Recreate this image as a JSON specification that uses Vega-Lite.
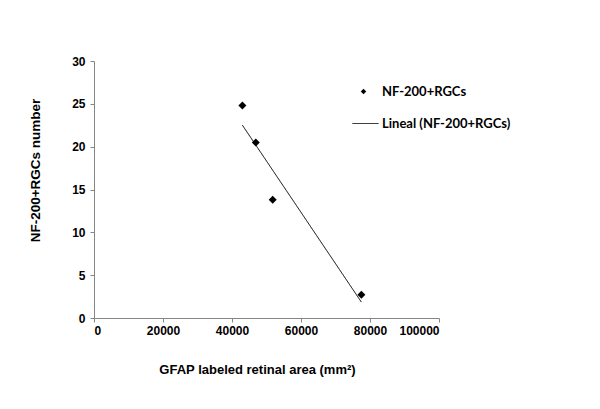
{
  "$schema": "https://vega.github.io/schema/vega-lite/v6.json",
  "autosize": "none",
  "width": 345,
  "height": 257,
  "padding": {"left": 94, "top": 61, "right": 161, "bottom": 91},
  "background": "white",
  "config": {
    "view": {"stroke": null},
    "axis": {
      "grid": false,
      "domainColor": "#868686",
      "tickColor": "#868686",
      "tickSize": 4,
      "labelFont": "Liberation Sans",
      "labelFontWeight": "bold",
      "labelFontSize": 12,
      "labelColor": "black",
      "titleFont": "Liberation Sans",
      "titleFontWeight": "bold",
      "titleColor": "black"
    },
    "legend": {"padding": 0, "labelFont": "Lato", "labelFontWeight": "bold", "labelFontSize": 13, "labelColor": "black"}
  },
  "data": {
    "values": [
      {"area": 43000, "count": 24.8},
      {"area": 46900, "count": 20.5},
      {"area": 51800, "count": 13.8},
      {"area": 77500, "count": 2.7}
    ]
  },
  "layer": [
    {
      "mark": {"type": "point", "shape": "diamond", "filled": true, "color": "black", "size": 64, "opacity": 1},
      "encoding": {
        "x": {
          "field": "area", "type": "quantitative",
          "scale": {"domain": [0, 100000], "nice": false},
          "axis": {"values": [0, 20000, 40000, 60000, 80000, 100000], "format": "d", "labelPadding": 3,
            "title": "GFAP labeled retinal area (mm²)", "titleFontSize": 13, "titleX": 163, "titleY": 51, "titleBaseline": "middle"}
        },
        "y": {
          "field": "count", "type": "quantitative",
          "scale": {"domain": [0, 30], "nice": false},
          "axis": {"values": [0, 5, 10, 15, 20, 25, 30], "labelPadding": 5,
            "title": "NF-200+RGCs number", "titleFontSize": 13.5, "titleX": -59, "titleY": 109, "titleBaseline": "middle", "titleAngle": -90}
        },
        "shape": {
          "datum": "NF-200+RGCs",
          "scale": {"range": ["diamond"]},
          "legend": {"title": null, "orient": "none", "legendX": 263, "legendY": 24, "symbolSize": 30,
            "symbolFillColor": "black", "symbolStrokeColor": "black", "symbolStrokeWidth": 0, "labelOffset": 12}
        }
      }
    },
    {
      "transform": [{"regression": "count", "on": "area"}],
      "mark": {"type": "line", "color": "black", "strokeWidth": 1},
      "encoding": {
        "x": {"field": "area", "type": "quantitative"},
        "y": {"field": "count", "type": "quantitative"},
        "strokeDash": {
          "datum": "Lineal (NF-200+RGCs)",
          "scale": {"range": [[1, 0]]},
          "legend": {"title": null, "orient": "none", "legendX": 258, "legendY": 49, "symbolType": "stroke", "symbolSize": 676,
            "symbolStrokeColor": "black", "symbolStrokeWidth": 1, "labelOffset": 3}
        }
      }
    }
  ]
}
